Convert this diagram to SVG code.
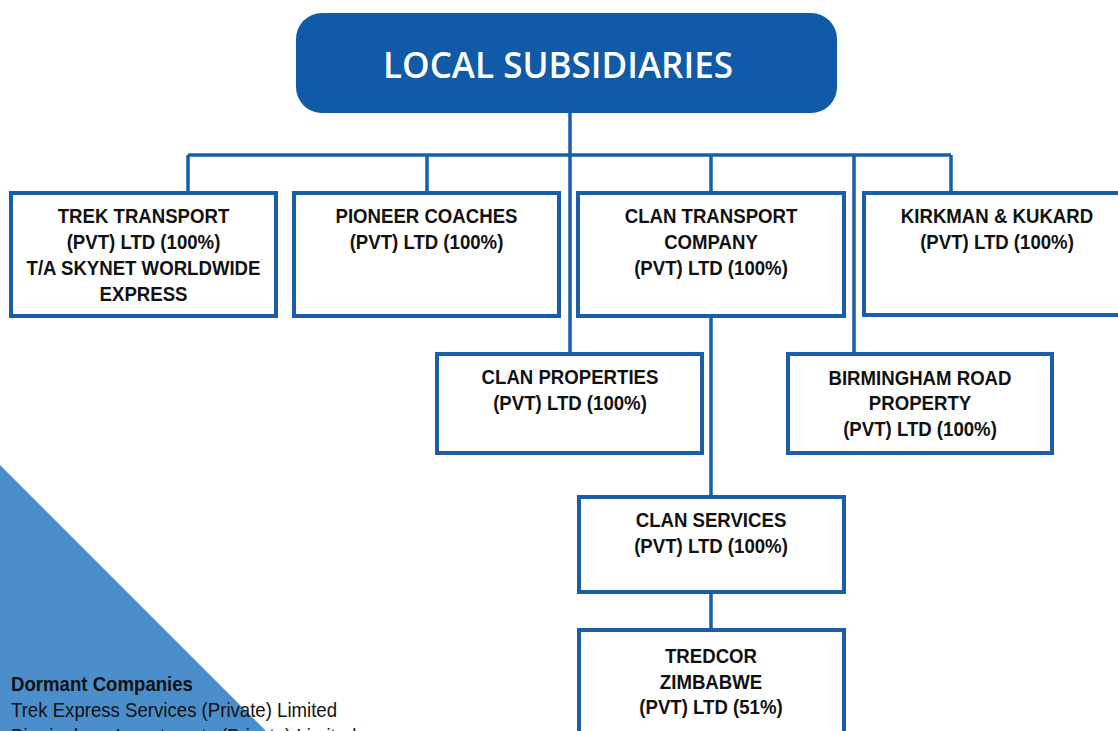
<svg xmlns="http://www.w3.org/2000/svg" width="1118" height="731" viewBox="0 0 1118 731">
<style>
.box{fill:#fff;stroke:#1a5ea9;stroke-width:4}
.ln{fill:none;stroke:#1a5ea9;stroke-width:3.5}
.t{font-family:"Liberation Sans",Arial,sans-serif;font-weight:bold;font-size:21px;fill:#111;text-anchor:middle}
.d{font-family:"Liberation Sans",Arial,sans-serif;font-size:21px;fill:#111}
.h{font-family:"Open Sans","Liberation Sans",sans-serif;font-weight:600;font-size:36px;fill:#fff;text-anchor:middle}
</style>
<rect width="1118" height="731" fill="#fff"/>
<polygon points="0,465 266,731 0,731" fill="#4a8fcc"/>

<g id="connectors">
<path class="ln" d="M570,113 V355 M188,155 H951 M188,155 V193 M427,155 V193 M711,155 V193 M951,155 V193 M854,155 V355 M711,316 V497 M711,592 V630"/>
</g>

<g id="header">
<rect x="296" y="13" width="541" height="100" rx="26" fill="#105aa7"/>
<text class="h" x="558" y="78" textLength="350" lengthAdjust="spacingAndGlyphs">LOCAL SUBSIDIARIES</text>
</g>

<g id="trek">
<rect class="box" x="11" y="193" width="265" height="123"/>
<text class="t" transform="translate(143.5 0) scale(0.887 1)"><tspan x="0" y="223">TREK TRANSPORT</tspan><tspan x="0" y="249">(PVT) LTD (100%)</tspan><tspan x="0" y="275">T/A SKYNET WORLDWIDE</tspan><tspan x="0" y="301">EXPRESS</tspan></text>
</g>

<g id="pioneer">
<rect class="box" x="294" y="193" width="265" height="123"/>
<text class="t" transform="translate(426.5 0) scale(0.887 1)"><tspan x="0" y="223">PIONEER COACHES</tspan><tspan x="0" y="249">(PVT) LTD (100%)</tspan></text>
</g>

<g id="clan-transport">
<rect class="box" x="578" y="193" width="266" height="123"/>
<text class="t" transform="translate(711 0) scale(0.887 1)"><tspan x="0" y="223">CLAN TRANSPORT</tspan><tspan x="0" y="249">COMPANY</tspan><tspan x="0" y="275">(PVT) LTD (100%)</tspan></text>
</g>

<g id="kirkman">
<rect class="box" x="864" y="193" width="262" height="122"/>
<text class="t" transform="translate(997 0) scale(0.887 1)"><tspan x="0" y="223">KIRKMAN &amp; KUKARD</tspan><tspan x="0" y="249">(PVT) LTD (100%)</tspan></text>
</g>

<g id="clan-properties">
<rect class="box" x="437" y="354" width="265" height="99"/>
<text class="t" transform="translate(570 0) scale(0.887 1)"><tspan x="0" y="384">CLAN PROPERTIES</tspan><tspan x="0" y="410">(PVT) LTD (100%)</tspan></text>
</g>

<g id="birmingham">
<rect class="box" x="788" y="354" width="264" height="99"/>
<text class="t" transform="translate(920 0) scale(0.887 1)"><tspan x="0" y="385">BIRMINGHAM ROAD</tspan><tspan x="0" y="410">PROPERTY</tspan><tspan x="0" y="436">(PVT) LTD (100%)</tspan></text>
</g>

<g id="clan-services">
<rect class="box" x="579" y="497" width="265" height="95"/>
<text class="t" transform="translate(711 0) scale(0.887 1)"><tspan x="0" y="527">CLAN SERVICES</tspan><tspan x="0" y="553">(PVT) LTD (100%)</tspan></text>
</g>

<g id="tredcor">
<rect class="box" x="579" y="630" width="265" height="120"/>
<text class="t" transform="translate(711 0) scale(0.887 1)"><tspan x="0" y="663">TREDCOR</tspan><tspan x="0" y="689">ZIMBABWE</tspan><tspan x="0" y="714">(PVT) LTD (51%)</tspan></text>
</g>

<g id="dormant">
<text class="d" transform="translate(11 0) scale(0.887 1)"><tspan x="0" y="691" font-weight="bold">Dormant Companies</tspan><tspan x="0" y="717">Trek Express Services (Private) Limited</tspan><tspan x="0" y="743">Birmingham Investments (Private) Limited</tspan></text>
</g>
</svg>
